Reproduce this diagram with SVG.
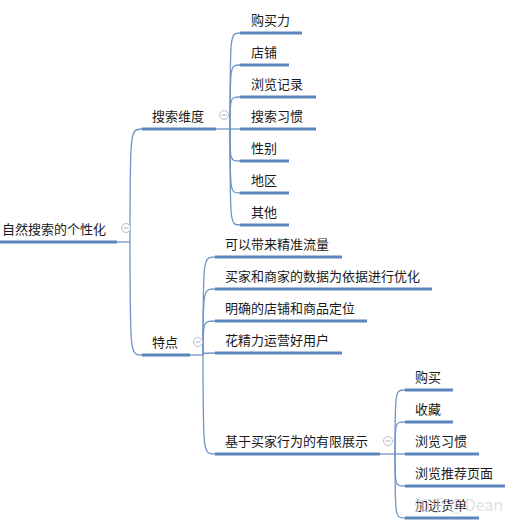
<svg xmlns="http://www.w3.org/2000/svg" width="513" height="525" viewBox="0 0 513 525">
<style>
.t{font-family:"Microsoft YaHei","Noto Sans CJK SC","Noto Sans",sans-serif;font-size:13px;fill:#1a1a1a}
.u{stroke:#5b86bb;stroke-width:3;fill:none}
.c{stroke:#6d95c6;stroke-width:1.3;fill:none}
.k circle{fill:#fff;stroke:#b4c0d2;stroke-width:1}
.k line{stroke:#a8b4c6;stroke-width:1}
.wm{font-family:"Noto Sans CJK SC","Noto Sans",sans-serif;font-size:16px;fill:#d6d6d6;fill-opacity:0.75}
</style>
<rect width="513" height="525" fill="#fff"/>
<g id="connectors">
<path class="c" d="M117,242 H130"/>
<path class="c" d="M130,242 C130,129 130,129 142,129"/>
<path class="c" d="M130,242 C130,355 130,355 142,355"/>
<path class="c" d="M216,129 H240"/>
<path class="c" d="M230,129 C230,33 230,33 240,33"/>
<path class="c" d="M230,129 C230,65 230,65 240,65"/>
<path class="c" d="M230,129 C230,97 230,97 240,97"/>
<path class="c" d="M230,129 C230,161 230,161 240,161"/>
<path class="c" d="M230,129 C230,193 230,193 240,193"/>
<path class="c" d="M230,129 C230,225 230,225 240,225"/>
<path class="c" d="M190,355 H203"/>
<path class="c" d="M203,355 C203,257 203,257 215,257"/>
<path class="c" d="M203,355 C203,289 203,289 215,289"/>
<path class="c" d="M203,355 C203,321 203,321 215,321"/>
<path class="c" d="M203,355 C203,353 205,353 215,353"/>
<path class="c" d="M203,355 C203,454 203,454 215,454"/>
<path class="c" d="M380,454 H405"/>
<path class="c" d="M395,454 C395,390 395,390 405,390"/>
<path class="c" d="M395,454 C395,422 395,422 405,422"/>
<path class="c" d="M395,454 C395,486 395,486 405,486"/>
<path class="c" d="M395,454 C395,518 395,518 405,518"/>
</g>
<g id="root"><text class="t" x="2" y="234">自然搜索的个性化</text><path class="u" d="M0,242 H117"/></g>
<g id="dim"><text class="t" x="152" y="121">搜索维度</text><path class="u" d="M142,129 H216"/></g>
<g id="d1"><text class="t" x="251" y="25">购买力</text><path class="u" d="M240,33 H302"/></g>
<g id="d2"><text class="t" x="251" y="57">店铺</text><path class="u" d="M240,65 H289"/></g>
<g id="d3"><text class="t" x="251" y="89">浏览记录</text><path class="u" d="M240,97 H316"/></g>
<g id="d4"><text class="t" x="251" y="121">搜索习惯</text><path class="u" d="M240,129 H316"/></g>
<g id="d5"><text class="t" x="251" y="153">性别</text><path class="u" d="M240,161 H289"/></g>
<g id="d6"><text class="t" x="251" y="185">地区</text><path class="u" d="M240,193 H289"/></g>
<g id="d7"><text class="t" x="251" y="217">其他</text><path class="u" d="M240,225 H289"/></g>
<g id="feat"><text class="t" x="152" y="347">特点</text><path class="u" d="M142,355 H190"/></g>
<g id="f1"><text class="t" x="225" y="249">可以带来精准流量</text><path class="u" d="M215,257 H342"/></g>
<g id="f2"><text class="t" x="225" y="281">买家和商家的数据为依据进行优化</text><path class="u" d="M215,289 H432"/></g>
<g id="f3"><text class="t" x="225" y="313">明确的店铺和商品定位</text><path class="u" d="M215,321 H367"/></g>
<g id="f4"><text class="t" x="225" y="345">花精力运营好用户</text><path class="u" d="M215,353 H342"/></g>
<g id="f5"><text class="t" x="225" y="446">基于买家行为的有限展示</text><path class="u" d="M215,454 H380"/></g>
<g id="b1"><text class="t" x="415" y="382">购买</text><path class="u" d="M405,390 H453"/></g>
<g id="b2"><text class="t" x="415" y="414">收藏</text><path class="u" d="M405,422 H453"/></g>
<g id="b3"><text class="t" x="415" y="446">浏览习惯</text><path class="u" d="M405,454 H479"/></g>
<g id="b4"><text class="t" x="415" y="478">浏览推荐页面</text><path class="u" d="M405,486 H505"/></g>
<g id="b5"><text class="t" x="415" y="510">加进货单</text><path class="u" d="M405,518 H479"/></g>
<g id="toggles" class="k">
<circle cx="126" cy="228" r="4.5"/><line x1="123.5" y1="228" x2="128.5" y2="228"/>
<circle cx="224" cy="115" r="4.5"/><line x1="221.5" y1="115" x2="226.5" y2="115"/>
<circle cx="198" cy="342" r="4.5"/><line x1="195.5" y1="342" x2="200.5" y2="342"/>
<circle cx="388" cy="441" r="4.5"/><line x1="385.5" y1="441" x2="390.5" y2="441"/>
</g>
<text class="wm" x="414" y="511">知乎 @Dean</text>
</svg>
